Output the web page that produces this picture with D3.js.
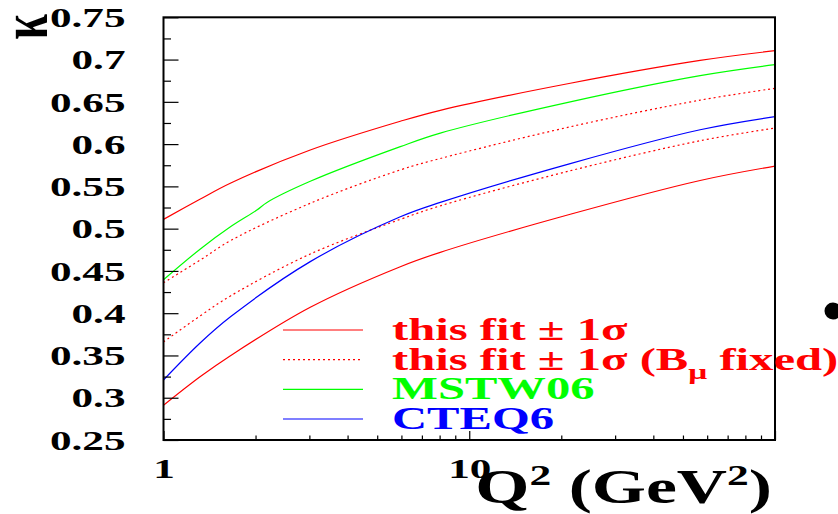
<!DOCTYPE html>
<html>
<head>
<meta charset="utf-8">
<script src="https://cdn.jsdelivr.net/npm/d3@7"></script>
<style>
  html, body { margin: 0; padding: 0; background: #fff; }
  svg { display: block; }
  text { font-family: "Liberation Serif", "Times New Roman", serif; font-weight: bold; }
</style>
</head>
<body>
<svg id="chart" width="838" height="514"></svg>
<script>
// Q^2 grid (GeV^2) at which the kappa curves are sampled
const q2 = [1, 1.32, 1.66, 3.02, 5.95, 8.04, 21.4, 56.9, 100];
// this fit, +/- 1 sigma band (solid)
const fitUpper = [0.511, 0.535, 0.554, 0.593, 0.627, 0.640, 0.672, 0.699, 0.7105];
const fitLower = [0.291, 0.325, 0.350, 0.407, 0.455, 0.472, 0.517, 0.557, 0.574];
// this fit, +/- 1 sigma with B_mu fixed (dotted)
const fixUpper = [0.436, 0.463, 0.486, 0.530, 0.5695, 0.583, 0.6205, 0.652, 0.666];
const fixLower = [0.366, 0.397, 0.4206, 0.470, 0.511, 0.527, 0.5685, 0.604, 0.619];
// CTEQ6
const cteq6 = [0.321, 0.365, 0.396, 0.461, 0.514, 0.531, 0.577, 0.617, 0.6325];
// MSTW06 has its own grid (small step near the charm threshold)
const q2Mstw = [1, 1.32, 1.66, 2.02, 2.18, 3.02, 5.95, 8.04, 21.4, 56.9, 100];
const mstw06 = [0.4395, 0.476, 0.5025, 0.522, 0.531, 0.556, 0.597, 0.613, 0.650, 0.681, 0.694];

// axis ticks
const yMajor = [0.25, 0.3, 0.35, 0.4, 0.45, 0.5, 0.55, 0.6, 0.65, 0.7, 0.75];
const yMinor = [0.275, 0.325, 0.375, 0.425, 0.475, 0.525, 0.575, 0.625, 0.675, 0.725];
const xMajor = [1, 10, 100];
const xLabels = ["1", "10", ""];
const xMinor = [2, 3, 4, 5, 6, 7, 8, 9, 20, 30, 40, 50, 60, 70, 80, 90];

const SX = 1.45;      // horizontal stretch of title glyphs
const SX_TICK = 1.6;  // horizontal stretch of tick labels
const SX_LEG = 1.52;  // horizontal stretch of legend glyphs

const svg = d3.select("#chart");
const L = 163.5, R = 775, T = 17.3, B = 440;

const x = d3.scaleLog().domain([1, 100]).range([L, R]);
const y = d3.scaleLinear().domain([0.25, 0.75]).range([B, T]);

// ---- curves ----
svg.append("clipPath").attr("id", "plotClip")
  .append("rect").attr("x", L).attr("y", T).attr("width", R - L).attr("height", B - T);

const line = d3.line()
  .x(d => x(d[0]))
  .y(d => y(d[1]))
  .curve(d3.curveCatmullRom.alpha(0.5));

const curves = [
  { xs: q2, ys: fitUpper, color: "#ff0000", dash: null },
  { xs: q2, ys: fitLower, color: "#ff0000", dash: null },
  { xs: q2, ys: fixUpper, color: "#ff0000", dash: "2,3" },
  { xs: q2, ys: fixLower, color: "#ff0000", dash: "2,3" },
  { xs: q2Mstw, ys: mstw06, color: "#00ff00", dash: null },
  { xs: q2, ys: cteq6, color: "#0000ff", dash: null }
];

const plot = svg.append("g").attr("clip-path", "url(#plotClip)");
curves.forEach(c => {
  plot.append("path")
    .datum(c.xs.map((q, i) => [q, c.ys[i]]))
    .attr("d", line)
    .attr("fill", "none")
    .attr("stroke", c.color)
    .attr("stroke-width", 1.2)
    .attr("stroke-dasharray", c.dash);
});

// ---- axes ----
function styleAxis(g) {
  g.select(".domain").remove();
  g.selectAll("line").attr("stroke", "#000").attr("stroke-width", 1.2);
}

// y axis: major ticks with labels, minor ticks shorter
const gyMajor = svg.append("g").attr("transform", `translate(${L},0)`)
  .call(d3.axisLeft(y).tickValues(yMajor).tickSizeInner(-15).tickSizeOuter(0)
    .tickPadding(38).tickFormat(d3.format("")));
styleAxis(gyMajor);
gyMajor.selectAll("text")
  .attr("x", 0).attr("dy", "0.34em")
  .attr("transform", `translate(-38,0) scale(${SX_TICK},1)`)
  .attr("font-size", 27).attr("fill", "#000")
  .style("font-family", "Liberation Serif").style("font-weight", "bold");

const gyMinor = svg.append("g").attr("transform", `translate(${L},0)`)
  .call(d3.axisLeft(y).tickValues(yMinor).tickSizeInner(-7.5).tickSizeOuter(0).tickFormat(""));
styleAxis(gyMinor);

// x axis (log): decades labelled, minor ticks between
const gxMajor = svg.append("g").attr("transform", `translate(0,${B})`)
  .call(d3.axisBottom(x).tickValues(xMajor).tickSizeInner(-9).tickSizeOuter(0)
    .tickFormat((d, i) => xLabels[i]));
styleAxis(gxMajor);
gxMajor.selectAll("text")
  .attr("y", 0).attr("dy", 0)
  .attr("transform", `translate(0,38) scale(${SX_TICK},1)`)
  .attr("font-size", 27).attr("fill", "#000")
  .style("font-family", "Liberation Serif").style("font-weight", "bold");

const gxMinor = svg.append("g").attr("transform", `translate(0,${B})`)
  .call(d3.axisBottom(x).tickValues(xMinor).tickSizeInner(-4.5).tickSizeOuter(0).tickFormat(""));
styleAxis(gxMinor);

// frame
svg.append("rect")
  .attr("x", L).attr("y", T).attr("width", R - L).attr("height", B - T)
  .attr("fill", "none").attr("stroke", "#000").attr("stroke-width", 2);

// ---- axis titles ----
const xt = svg.append("text")
  .attr("transform", `translate(772,503) scale(${SX},1)`)
  .attr("text-anchor", "end").attr("font-size", 48).attr("fill", "#000");
xt.append("tspan").text("Q");
xt.append("tspan").attr("dy", -18).attr("font-size", 30).text("2");
xt.append("tspan").attr("dy", 18).text(" (GeV");
xt.append("tspan").attr("dy", -18).attr("font-size", 30).text("2");
xt.append("tspan").attr("dy", 18).text(")");

svg.append("text")
  .attr("transform", `translate(47,14) scale(${SX},1) rotate(-90)`)
  .attr("text-anchor", "end").attr("font-size", 46).attr("fill", "#000")
  .text("κ");

// ---- legend ----
const legendRows = [
  { color: "#ff0000", dash: null, parts: [["this fit ± 1σ", 0]] },
  { color: "#ff0000", dash: "2,3", parts: [["this fit ± 1σ (B", 0], ["μ", 1], [" fixed)", 0]] },
  { color: "#00ff00", dash: null, parts: [["MSTW06", 0]] },
  { color: "#0000ff", dash: null, parts: [["CTEQ6", 0]] }
];
const legendY = d3.scaleLinear().domain([0, 3]).range([330, 419]);

legendRows.forEach((row, i) => {
  const ly = legendY(i);
  svg.append("line")
    .attr("x1", 283).attr("x2", 363).attr("y1", ly).attr("y2", ly)
    .attr("stroke", row.color).attr("stroke-width", 1.2)
    .attr("stroke-dasharray", row.dash);
  const t = svg.append("text")
    .attr("transform", `translate(392,${ly + 10}) scale(${SX_LEG},1)`)
    .attr("font-size", 32).attr("fill", row.color);
  let sub = 0;
  row.parts.forEach(([s, isSub]) => {
    const dy = isSub ? 9 : (sub ? -9 : 0);
    t.append("tspan").attr("dy", dy).attr("font-size", isSub ? 22 : 32).text(s);
    sub = isSub;
  });
});

// stray marker at the right edge
svg.append("circle").attr("cx", 833).attr("cy", 311).attr("r", 8.5).attr("fill", "#000");
</script>
</body>
</html>
